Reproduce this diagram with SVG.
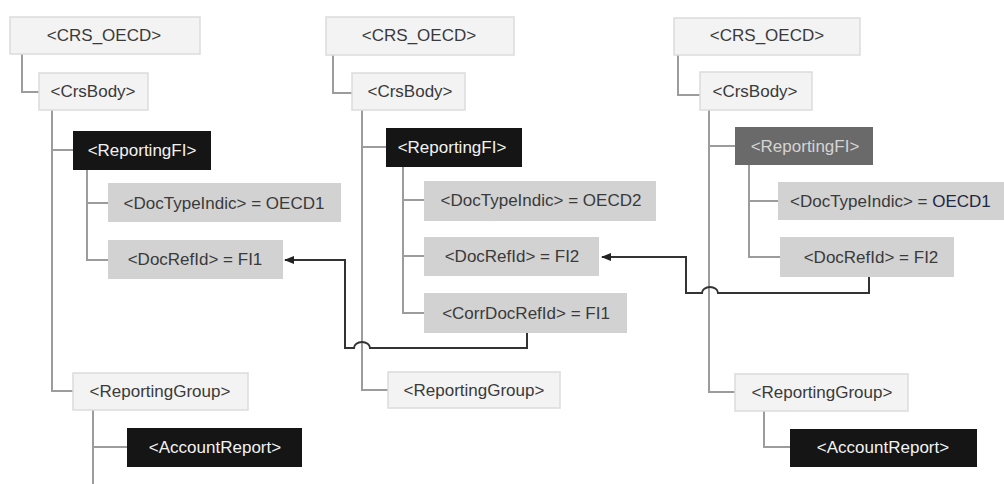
<svg xmlns="http://www.w3.org/2000/svg" width="1004" height="484" viewBox="0 0 1004 484">
<style>
text{font-family:"Liberation Sans",Arial,sans-serif;font-size:17px;text-anchor:middle;dominant-baseline:central;fill:#3a3a3a}
.lt{fill:#f3f3f3;stroke:#dcdcdc;stroke-width:1.5}
.gr{fill:#d2d2d2}
.bk{fill:#151515}
.dg{fill:#6a6a6a}
.wt{fill:#f2f2f2}
.dt{fill:#d4d4d4}
.tree{fill:none;stroke:#9c9c9c;stroke-width:2}
.ref{fill:none;stroke:#333;stroke-width:2}
</style>
<defs>
<marker id="ah" viewBox="0 0 10 10" refX="9" refY="5" markerWidth="10" markerHeight="10" markerUnits="userSpaceOnUse" orient="auto">
<path d="M0,1 L10,5 L0,9 Z" fill="#222"/>
</marker>
</defs>
<rect width="1004" height="484" fill="#fff"/>
<g id="connectors">
<path class="tree" d="M22,53 V92 H39"/>
<path class="tree" d="M52,110 V391 H73 M52,150 H73"/>
<path class="tree" d="M87,170 V260 H108 M87,203 H108"/>
<path class="tree" d="M93,410 V484 M93,447 H127"/>
<path class="tree" d="M333,55 V93 H352"/>
<path class="tree" d="M362,110 V390 H388 M362,147 H386"/>
<path class="tree" d="M403,167 V313 H424 M403,200 H424 M403,256 H424"/>
<path class="tree" d="M678,55 V95 H700"/>
<path class="tree" d="M709,110 V392 H735 M709,146 H735"/>
<path class="tree" d="M749,165 V257 H780 M749,201 H778"/>
<path class="tree" d="M764,411 V447 H790"/>
<path class="ref" marker-end="url(#ah)" d="M527,333 V348 H370 A8,6 0 0 0 354,348 H345 V260 H285"/>
<path class="ref" marker-end="url(#ah)" d="M869,277 V293 H718 A8,6 0 0 0 702,293 H686 V257 H602"/>
</g>
<g id="t1-crs"><rect class="lt" x="10" y="17" width="190" height="37"/><text x="104" y="35">&lt;CRS_OECD&gt;</text></g>
<g id="t1-body"><rect class="lt" x="39" y="73" width="109" height="37"/><text x="93" y="91">&lt;CrsBody&gt;</text></g>
<g id="t1-rfi"><rect class="bk" x="73" y="131" width="138" height="39"/><text class="wt" x="142" y="150">&lt;ReportingFI&gt;</text></g>
<g id="t1-dti"><rect class="gr" x="108" y="183" width="233" height="39"/><text x="224" y="203">&lt;DocTypeIndic&gt; = OECD1</text></g>
<g id="t1-dri"><rect class="gr" x="108" y="240" width="175" height="39"/><text x="195" y="259">&lt;DocRefId&gt; = FI1</text></g>
<g id="t1-rg"><rect class="lt" x="73" y="373" width="175" height="37"/><text x="160" y="391">&lt;ReportingGroup&gt;</text></g>
<g id="t1-ar"><rect class="bk" x="127" y="428" width="175" height="39"/><text class="wt" x="215" y="447">&lt;AccountReport&gt;</text></g>
<g id="t2-crs"><rect class="lt" x="326" y="17" width="188" height="38"/><text x="419" y="35">&lt;CRS_OECD&gt;</text></g>
<g id="t2-body"><rect class="lt" x="352" y="73" width="113" height="37"/><text x="410" y="91">&lt;CrsBody&gt;</text></g>
<g id="t2-rfi"><rect class="bk" x="386" y="128" width="136" height="39"/><text class="wt" x="452" y="147">&lt;ReportingFI&gt;</text></g>
<g id="t2-dti"><rect class="gr" x="424" y="181" width="232" height="40"/><text x="541" y="200">&lt;DocTypeIndic&gt; = OECD2</text></g>
<g id="t2-dri"><rect class="gr" x="424" y="237" width="175" height="39"/><text x="512" y="256">&lt;DocRefId&gt; = FI2</text></g>
<g id="t2-cdri"><rect class="gr" x="424" y="293" width="203" height="40"/><text x="526" y="313">&lt;CorrDocRefId&gt; = FI1</text></g>
<g id="t2-rg"><rect class="lt" x="388" y="372" width="172" height="36"/><text x="474" y="390">&lt;ReportingGroup&gt;</text></g>
<g id="t3-crs"><rect class="lt" x="674" y="18" width="186" height="37"/><text x="767" y="35">&lt;CRS_OECD&gt;</text></g>
<g id="t3-body"><rect class="lt" x="700" y="72" width="112" height="38"/><text x="755" y="91">&lt;CrsBody&gt;</text></g>
<g id="t3-rfi"><rect class="dg" x="735" y="127" width="138" height="38"/><text class="dt" x="805" y="146">&lt;ReportingFI&gt;</text></g>
<g id="t3-dti"><rect class="gr" x="778" y="182" width="226" height="38"/><text x="790" y="201" style="text-anchor:start">&lt;DocTypeIndic&gt; = <tspan fill="#1f2742">OECD1</tspan></text></g>
<g id="t3-dri"><rect class="gr" x="780" y="237" width="174" height="40"/><text x="871" y="257">&lt;DocRefId&gt; = FI2</text></g>
<g id="t3-rg"><rect class="lt" x="735" y="374" width="173" height="37"/><text x="822" y="392">&lt;ReportingGroup&gt;</text></g>
<g id="t3-ar"><rect class="bk" x="790" y="429" width="187" height="38"/><text class="wt" x="883" y="447">&lt;AccountReport&gt;</text></g>
</svg>
